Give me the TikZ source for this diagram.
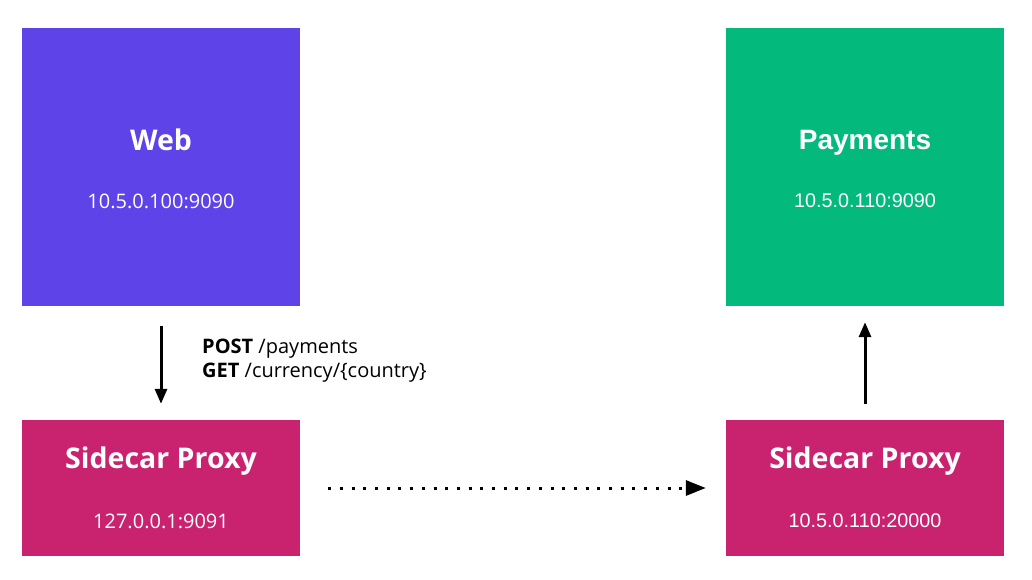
\documentclass[tikz,border=0pt]{standalone}
\usepackage{fontspec}
\setmainfont{Open Sans}
\newfontfamily\arialfont{Liberation Sans}
\usetikzlibrary{arrows.meta, positioning}
\definecolor{WebPurple}{HTML}{5D43E8}
\definecolor{PayGreen}{HTML}{03B97C}
\definecolor{ProxyPink}{HTML}{C9226F}
\tikzset{
  svcbox/.style={rectangle, fill=#1, minimum width=278pt, inner sep=0pt},
  bigbox/.style={svcbox=#1, minimum height=278pt},
  proxybox/.style={svcbox=ProxyPink, minimum height=136pt},
  boxtitle/.style={text=white, font=\bfseries\fontsize{28.5}{32}\selectfont, inner sep=0pt},
  boxaddr/.style={text=white, font=\fontsize{20}{22}\selectfont, inner sep=0pt},
  callarrow/.style={-{Triangle[length=15pt, width=12pt]}, line width=3pt, black},
  meshlink/.style={-{Triangle[length=20pt, width=15pt]}, line width=3pt, black,
                   dash pattern=on 3pt off 8.7pt},
}
\begin{document}
\begin{tikzpicture}[x=1pt, y=-1pt]
    \useasboundingbox (0,0) rectangle (1032,580);

    % services on top, their proxies below
    \node[bigbox=WebPurple] (web) at (161,167) {};
    \node[bigbox=PayGreen] (payments) at (865,167) {};
    \node[proxybox] (webproxy) at (161,488) {};
    \node[proxybox] (payproxy) at (865,488) {};

    \node[boxtitle] (webtitle) at ([yshift=27pt]web.center) {Web};
    \node[boxaddr] (webaddr) at ([yshift=-34pt]web.center) {10.5.0.100:9090};
    \node[boxtitle, font=\arialfont\bfseries\fontsize{28}{32}\selectfont] (paytitle) at ([yshift=24pt]payments.center) {Payments};
    \node[boxaddr, font=\arialfont\fontsize{19.8}{22}\selectfont] (payaddr) at ([yshift=-34pt]payments.center) {10.5.0.110:9090};
    \node[boxtitle] (webproxytitle) at ([yshift=27pt]webproxy.center) {Sidecar Proxy};
    \node[boxaddr] (webproxyaddr) at ([yshift=-33pt]webproxy.center) {127.0.0.1:9091};
    \node[boxtitle] (payproxytitle) at ([yshift=27pt]payproxy.center) {Sidecar Proxy};
    \node[boxaddr, font=\arialfont\fontsize{19.8}{22}\selectfont] (payproxyaddr) at ([yshift=-33pt]payproxy.center) {10.5.0.110:20000};

    \draw[callarrow, shorten <=20pt, shorten >=16pt] (web) -- (webproxy);
    \draw[callarrow, shorten <=16pt, shorten >=16pt] (payproxy) -- (payments);
    \draw[meshlink, shorten <=28pt, shorten >=20pt] (webproxy.east) -- (payproxy.west);

    \node[anchor=west, align=left, inner sep=0pt, font=\fontsize{20}{24}\selectfont] (routes) at (202,361)
      {\textbf{POST} /payments\\\textbf{GET} /currency/\{country\}};
\end{tikzpicture}
\end{document}
